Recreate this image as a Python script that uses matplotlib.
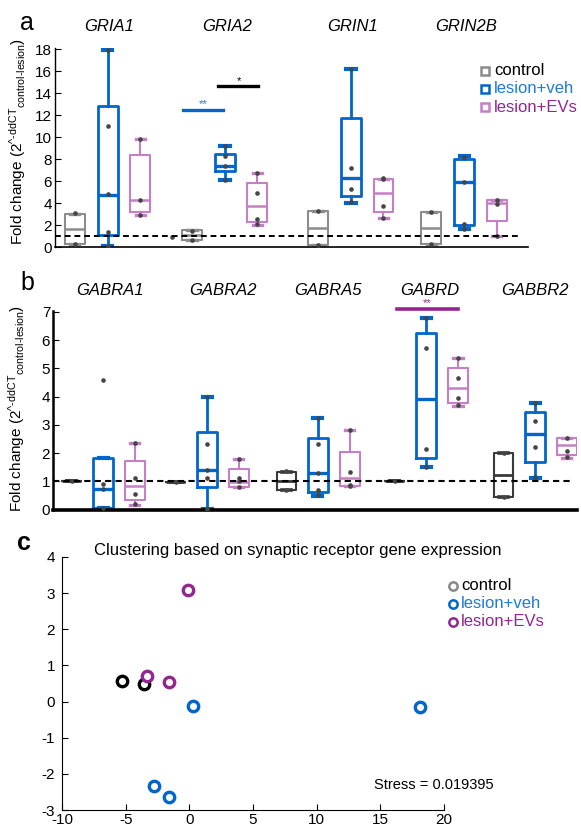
import matplotlib
matplotlib.use('Agg')
import matplotlib.pyplot as plt

plt.rcParams['font.family'] = ['Liberation Sans', 'DejaVu Sans']
plt.rcParams['axes.unicode_minus'] = False
plt.rcParams['mathtext.fontset'] = 'custom'
plt.rcParams['mathtext.rm'] = 'Liberation Sans'
plt.rcParams['mathtext.it'] = 'Liberation Sans:italic'

# ---------------- data ----------------
groups = ['control', 'lesion+veh', 'lesion+EVs']

# panel a, box stats per gene: whisker low, q1, median, q3, whisker high
a_genes = ['GRIA1', 'GRIA2', 'GRIN1', 'GRIN2B']
a_control = [[0.3, 0.3, 1.65, 3.0, 3.0],
             [0.65, 0.65, 1.1, 1.55, 1.55],
             [0.2, 0.2, 1.7, 3.3, 3.3],
             [0.25, 0.25, 1.7, 3.2, 3.2]]
a_veh = [[0.05, 1.05, 4.75, 12.8, 17.9],
         [6.05, 6.95, 7.4, 8.45, 9.2],
         [4.0, 4.65, 6.25, 11.75, 16.2],
         [1.6, 2.0, 5.95, 8.0, 8.3]]
a_evs = [[2.9, 3.2, 4.3, 8.4, 9.8],
         [2.0, 2.3, 3.7, 5.8, 6.7],
         [2.6, 3.15, 4.95, 6.2, 6.2],
         [1.0, 2.36, 3.97, 4.27, 4.27]]
a_control_pts = [[3.05, 0.3], [1.5, 0.65], [3.3, 0.2], [3.2, 0.3]]
a_veh_pts = [[17.9, 11.0, 4.8, 1.4, 0.1], [9.2, 8.3, 7.4, 6.1],
             [16.2, 7.2, 5.3, 4.05], [8.2, 5.95, 2.1, 1.6]]
a_evs_pts = [[9.85, 4.3, 2.9], [6.7, 4.95, 2.55, 2.05],
             [6.3, 6.15, 3.7, 2.6], [4.3, 3.9, 1.0]]
a_extra_pt = 0.9   # lone point left of the GRIA2 control box

# panel b
b_genes = ['GABRA1', 'GABRA2', 'GABRA5', 'GABRD', 'GABBR2']
b_control = [[1.0, 1.0, 1.0, 1.0, 1.0],
             [0.98, 0.98, 0.98, 0.98, 0.98],
             [0.68, 0.68, 1.0, 1.33, 1.33],
             [1.0, 1.0, 1.0, 1.0, 1.0],
             [0.45, 0.45, 1.22, 1.99, 1.99]]
b_veh = [[0.04, 0.04, 0.72, 1.81, 1.83],
         [0.01, 0.8, 1.39, 2.73, 3.97],
         [0.48, 0.63, 1.3, 2.52, 3.25],
         [1.51, 1.83, 3.91, 6.24, 6.8],
         [1.13, 1.67, 2.67, 3.44, 3.78]]
b_evs = [[0.15, 0.35, 0.84, 1.71, 2.34],
         [0.8, 0.8, 0.96, 1.42, 1.78],
         [0.83, 0.83, 1.1, 2.04, 2.8],
         [3.66, 3.78, 4.29, 5.02, 5.38],
         [1.83, 1.93, 2.28, 2.52, 2.52]]
b_control_pts = [[1.0], [0.98], [1.35, 0.7], [1.0], [2.0, 0.45]]
b_veh_pts = [[4.6, 0.92, 0.72, 0.07], [3.97, 2.32, 1.41, 1.1, 0.03],
             [3.25, 2.32, 1.3, 0.7, 0.5], [6.8, 5.71, 2.14, 1.5],
             [3.78, 3.13, 2.22, 1.15]]
b_evs_pts = [[2.36, 1.1, 0.54, 0.18], [1.8, 1.1, 1.0, 0.8],
             [2.8, 1.33, 0.86, 0.85], [5.35, 4.67, 3.94, 3.7],
             [2.52, 2.08, 1.87]]

# panel c (MDS coordinates)
c_control_x = [-5.3, -3.55]
c_control_y = [0.56, 0.49]
c_veh_x = [0.26, -2.81, -1.57, 18.1]
c_veh_y = [-0.11, -2.33, -2.63, -0.14]
c_evs_x = [-3.33, -1.63, -0.13]
c_evs_y = [0.71, 0.53, 3.1]
stress = 0.019395

# colours
GREY = '#8c8c8c'
DARK = '#3a3a3a'
BLUE = '#0066cc'
BLUE_TXT = '#1f7ad8'
PINK = '#c57fc5'
PURPLE = '#93268f'
DOT = '#454545'

ylab = r'Fold change (2$^{\text{^-ddCT}}$$_{\text{control-lesion}}$)'


def draw_boxes(ax, stats, pts, pos, color, lw, medlw):
    bs = [dict(whislo=s[0], q1=s[1], med=s[2], q3=s[3], whishi=s[4], fliers=[])
          for s in stats]
    ax.bxp(bs, positions=pos, widths=0.6, capwidths=0.28, showfliers=False,
           manage_ticks=False,
           boxprops=dict(color=color, lw=lw),
           whiskerprops=dict(color=color, lw=lw),
           capprops=dict(color=color, lw=medlw + 0.6),
           medianprops=dict(color=color, lw=medlw))
    for p, vals in zip(pos, pts):
        ax.scatter([p] * len(vals), vals, s=11, color=DOT, lw=0, zorder=5)


def style_axis(ax):
    for side in ['top', 'right']:
        ax.spines[side].set_visible(False)
    ax.set_xticks([])
    ax.tick_params(axis='y', direction='in', length=4, pad=2, labelsize=11)


fig = plt.figure(figsize=(5.81, 8.31), dpi=100)

# ---------------- panel a ----------------
ax = fig.add_axes([55 / 581, 1 - 247 / 831, 473 / 581, 199 / 831])
centers = [1.6, 5.15, 8.97, 12.4]
draw_boxes(ax, a_control, a_control_pts, [c - 1 for c in centers], GREY, 1.5, 1.8)
draw_boxes(ax, a_veh, a_veh_pts, centers, BLUE, 2.0, 2.4)
draw_boxes(ax, a_evs, a_evs_pts, [c + 0.98 for c in centers], PINK, 1.5, 1.8)
ax.scatter([centers[1] - 1.6], [a_extra_pt], s=11, color=DOT, lw=0, zorder=5)
ax.plot([0, 14.03], [1, 1], color='black', lw=1.4, dashes=(3, 2), zorder=6)
# significance bars
ax.plot([3.88, 5.09], [12.45, 12.45], color=BLUE, lw=2.4)
ax.text(4.5, 12.5, '**', color=BLUE_TXT, ha='center', va='bottom', fontsize=8)
ax.plot([4.94, 6.15], [14.6, 14.6], color='black', lw=2.4)
ax.text(5.57, 14.65, '*', color='black', ha='center', va='bottom', fontsize=8)
ax.set_xlim(0, 14.33)
ax.set_ylim(0, 18.1)
ax.set_yticks(range(0, 19, 2))
style_axis(ax)
ax.spines['left'].set_linewidth(1.0)
ax.spines['bottom'].set_linewidth(1.2)
ax.set_ylabel(ylab, fontsize=11)
ax.yaxis.set_label_coords(-0.058, 0.53)
for c, g in zip(centers, a_genes):
    ax.text(c + 0.05, 1.11, g, transform=ax.get_xaxis_transform(), ha='center',
            va='center', style='italic', fontsize=12)

# legend a
leg_cols = [GREY, BLUE, PINK]
leg_txt = ['black', BLUE_TXT, PURPLE]
for i, g in enumerate(groups):
    yy = 1 - (70.7 + 18.2 * i) / 831
    ax.plot([485 / 581], [yy], 's', transform=fig.transFigure, clip_on=False,
            ms=6, mfc='white', mec=leg_cols[i], mew=1.8)
    fig.text(494 / 581, yy, g, color=leg_txt[i], fontsize=12, va='center', ha='left')

# ---------------- panel b ----------------
ax = fig.add_axes([53 / 581, 1 - 509.5 / 831, 524 / 581, 199 / 831])
centers = [1.54, 4.74, 8.15, 11.48, 14.83]
draw_boxes(ax, b_control, b_control_pts, [c - 0.97 for c in centers], DARK, 1.5, 2.0)
draw_boxes(ax, b_veh, b_veh_pts, centers, BLUE, 2.0, 2.4)
draw_boxes(ax, b_evs, b_evs_pts, [c + 0.98 for c in centers], PINK, 1.5, 1.8)
ax.plot([0, 16.0], [1, 1], color='black', lw=1.5, dashes=(3, 2), zorder=6)
ax.plot([10.58, 12.46], [7.09, 7.09], color=PURPLE, lw=2.6, clip_on=False)
ax.text(11.5, 7.15, '**', color=PURPLE, ha='center', va='bottom', fontsize=8)
ax.set_xlim(0, 16.12)
ax.set_ylim(0, 7.05)
ax.set_yticks(range(0, 8))
style_axis(ax)
ax.spines['left'].set_linewidth(1.8)
ax.spines['bottom'].set_linewidth(2.6)
ax.set_ylabel(ylab, fontsize=11)
ax.yaxis.set_label_coords(-0.05, 0.51)
label_shift = [0.2, 0.5, 0.3, 0.1, 0.0]
for c, g, s in zip(centers, b_genes, label_shift):
    ax.text(c + s, 1.098, g, transform=ax.get_xaxis_transform(), ha='center',
            va='center', style='italic', fontsize=12)

# ---------------- panel c ----------------
ax = fig.add_axes([62 / 581, 1 - 810 / 831, 382 / 581, 253 / 831])
mk = dict(marker='o', ms=7.5, mfc='white', mew=2.4, ls='none', clip_on=False)
ax.plot(c_control_x, c_control_y, mec='black', **mk)
ax.plot(c_veh_x, c_veh_y, mec=BLUE, **mk)
ax.plot(c_evs_x, c_evs_y, mec=PURPLE, **mk)
ax.set_xlim(-10, 20)
ax.set_ylim(-3, 4)
ax.set_xticks(range(-10, 21, 5))
ax.set_yticks(range(-3, 5))
for side in ['top', 'right']:
    ax.spines[side].set_visible(False)
ax.tick_params(direction='in', length=4, labelsize=11)
ax.tick_params(axis='y', pad=5)
ax.tick_params(axis='x', pad=2.5)
ax.text(14.5, -2.32, 'Stress = %.6f' % stress, fontsize=10.5, ha='left', va='center')
fig.text(298 / 581, 1 - 550 / 831,
         'Clustering based on synaptic receptor gene expression',
         fontsize=12, ha='center', va='center')
c_leg_cols = ['#888888', BLUE, PURPLE]
c_leg_txt = ['black', BLUE_TXT, PURPLE]
for i, g in enumerate(groups):
    yy = 1 - (586 + 18 * i) / 831
    ax.plot([453 / 581], [yy], 'o', transform=fig.transFigure, clip_on=False,
            ms=6, mfc='white', mec=c_leg_cols[i], mew=1.8)
    fig.text(461 / 581, yy, g, color=c_leg_txt[i], fontsize=12, va='center', ha='left')

# panel letters
fig.text(20 / 581, 1 - 30 / 831, 'a', fontsize=18, va='baseline')
fig.text(20 / 581, 1 - 290 / 831, 'b', fontsize=18, va='baseline')
fig.text(17 / 581, 1 - 550 / 831, 'c', fontsize=18, va='baseline', weight='bold')

fig.savefig('out.png', dpi=100)
